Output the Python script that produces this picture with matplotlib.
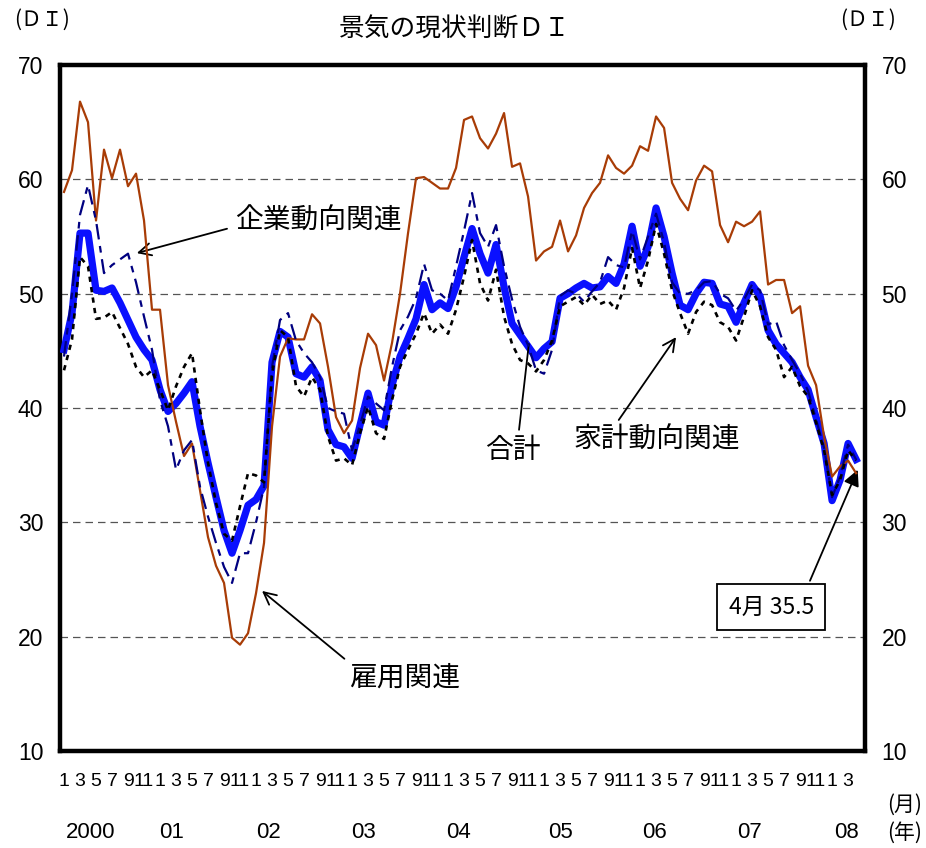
import matplotlib
matplotlib.use('Agg')
import matplotlib.pyplot as plt

plt.rcParams['font.family'] = ['Noto Sans CJK JP', 'DejaVu Sans']
NUM_FONT = ['Liberation Sans', 'DejaVu Sans']

# 2000年1月～2008年4月（月次）
years = ['2000', '01', '02', '03', '04', '05', '06', '07', '08']
n_months = 100

# 合計
total = [45.1, 48.3, 55.3, 55.3, 50.3, 50.2, 50.5, 49.2, 47.7, 46.2, 45.1, 44.2,
         41.6, 39.7, 40.4, 41.3, 42.3, 38.4, 35.2, 32.2, 29.3, 27.3, 29.3, 31.5,
         32.0, 33.2, 44.0, 46.7, 46.2, 43.0, 42.7, 43.6, 42.4, 38.1, 36.8, 36.6,
         35.6, 38.5, 41.3, 38.8, 38.5, 42.0, 44.5, 46.1, 47.8, 50.8, 48.6, 49.2,
         48.7, 50.6, 53.2, 55.7, 53.5, 51.8, 54.3, 50.6, 47.4, 46.4, 45.4, 44.4,
         45.2, 45.8, 49.6, 50.0, 50.5, 50.9, 50.5, 50.6, 51.5, 50.9, 52.6, 55.9,
         52.4, 54.1, 57.5, 55.0, 51.8, 49.0, 48.6, 50.0, 51.0, 50.9, 49.1, 48.9,
         47.5, 49.2, 50.8, 49.8, 46.8, 45.6, 44.8, 44.0, 42.7, 41.6, 39.2, 36.9,
         31.9, 33.7, 36.9, 35.5]

# 家計動向関連
household = [43.3, 46.0, 53.2, 52.4, 47.8, 47.9, 48.4, 47.0, 45.6, 43.6, 42.7, 43.3,
             41.6, 39.8, 41.9, 43.6, 44.8, 39.8, 35.2, 31.7, 29.0, 28.4, 31.4, 34.3,
             34.1, 33.5, 43.0, 46.8, 46.2, 41.9, 41.0, 42.7, 41.6, 37.5, 35.4, 35.6,
             35.0, 37.8, 40.1, 37.8, 37.3, 40.7, 43.6, 45.1, 46.5, 48.3, 46.5, 47.3,
             46.5, 48.6, 51.5, 54.7, 50.9, 49.4, 52.1, 48.0, 45.6, 44.2, 43.9, 43.2,
             44.2, 45.9, 48.9, 49.3, 49.7, 49.0, 49.9, 49.1, 49.4, 48.6, 50.5, 54.0,
             50.5, 52.9, 56.1, 53.5, 50.3, 48.3, 46.5, 48.4, 49.3, 49.0, 47.5, 47.1,
             45.9, 48.0, 50.3, 48.9, 46.2, 45.1, 42.7, 43.6, 41.9, 41.0, 38.7, 36.3,
             32.4, 33.7, 36.3, 35.4]

# 企業動向関連
business = [44.5, 50.0, 56.9, 59.5, 56.4, 51.8, 52.5, 53.0, 53.5, 51.0, 48.0, 45.1,
            40.7, 38.4, 34.6, 36.3, 37.2, 33.1, 30.5, 28.2, 26.1, 24.7, 27.3, 27.3,
            30.0, 33.1, 43.6, 47.7, 48.3, 45.9, 44.8, 44.0, 42.7, 40.0, 39.7, 39.5,
            36.3, 38.5, 41.0, 40.4, 39.8, 43.6, 46.8, 48.0, 49.6, 52.6, 50.3, 50.0,
            49.4, 52.4, 55.5, 58.8, 55.3, 54.1, 56.0, 52.4, 49.5, 47.1, 45.5, 43.3,
            43.0, 45.1, 49.8, 50.3, 50.0, 49.3, 50.2, 51.0, 53.2, 52.5, 52.3, 55.5,
            53.0, 55.0, 57.0, 54.5, 51.0, 50.0, 50.0, 50.3, 51.0, 51.1, 50.0, 49.6,
            48.5, 49.5, 50.8, 50.3, 47.3, 47.6, 45.5, 44.2, 43.0, 41.5, 39.0, 36.5,
            32.2, 34.0, 36.8, 35.5]

# 雇用関連
employment = [58.9, 60.8, 66.8, 65.0, 56.4, 62.6, 60.1, 62.6, 59.4, 60.5, 56.4, 48.6,
              48.6, 42.0, 38.8, 35.8, 36.9, 32.8, 28.7, 26.2, 24.7, 19.9, 19.3, 20.3,
              23.8, 28.2, 38.4, 44.5, 46.1, 46.0, 46.0, 48.2, 47.4, 43.6, 39.2, 37.8,
              38.9, 43.5, 46.5, 45.5, 42.4, 45.7, 50.0, 55.3, 60.1, 60.2, 59.7, 59.2,
              59.2, 61.0, 65.2, 65.5, 63.6, 62.7, 64.0, 65.8, 61.1, 61.4, 58.5, 52.9,
              53.7, 54.1, 56.4, 53.7, 55.1, 57.5, 58.8, 59.7, 62.1, 61.0, 60.5, 61.2,
              62.9, 62.5, 65.5, 64.5, 59.7, 58.3, 57.3, 59.9, 61.2, 60.7, 56.0, 54.5,
              56.3, 55.9, 56.3, 57.2, 50.8, 51.2, 51.2, 48.3, 48.9, 43.7, 42.0, 37.5,
              34.0, 34.9, 35.4, 34.3]

x = list(range(n_months))

fig = plt.figure(figsize=(9.26, 8.48), dpi=100)
ax = fig.add_axes([0.0648, 0.1144, 0.8692, 0.8089])

ax.plot(x, total, color='#0a10ff', lw=5.2, solid_joinstyle='round', zorder=3)
ax.plot(x, employment, color='#a83c06', lw=1.6, zorder=4)
ax.plot(x, business, color='#000080', lw=1.6, linestyle=(0, (7, 3, 3, 3)), zorder=5)
ax.plot(x, household, color='black', lw=1.9, linestyle=(0, (2.0, 2.0)), zorder=6)

ax.set_xlim(-0.5, 100.1)
ax.set_ylim(10, 70)
for v in [20, 30, 40, 50, 60]:
    ax.axhline(v, color='#555555', lw=0.9, linestyle=(0, (6, 4)), zorder=1)

for s in ax.spines.values():
    s.set_linewidth(3.2)

# 目盛り
ax.set_yticks([10, 20, 30, 40, 50, 60, 70])
ax.tick_params(axis='y', length=0, labelsize=16.5, pad=12, labelright=True, right=False)
for t in ax.yaxis.get_major_ticks():
    t.label1.set_family(NUM_FONT)
    t.label2.set_family(NUM_FONT)
ax.set_xticks(range(0, n_months, 2))
ax.set_xticklabels([str(i % 12 + 1) for i in range(0, n_months, 2)], family=NUM_FONT)
ax.tick_params(axis='x', length=0, labelsize=14, pad=16)

# 年ラベル
year_pos = [3.3, 13.5, 25.5, 37.4, 49.3, 62.0, 73.8, 85.7, 97.8]
for p, yl in zip(year_pos, years):
    ax.text(p, 2.9, yl, ha='center', va='center', fontsize=16, family=NUM_FONT,
            clip_on=False)

fig.text(905 / 926, 1 - 805 / 848, '(月)', ha='center', va='center', fontsize=15)
fig.text(905 / 926, 1 - 833 / 848, '(年)', ha='center', va='center', fontsize=15)
fig.text(42 / 926, 1 - 20 / 848, '(ＤＩ)', ha='center', va='center', fontsize=15)
fig.text(868 / 926, 1 - 20 / 848, '(ＤＩ)', ha='center', va='center', fontsize=15)
fig.text(455 / 926, 1 - 30 / 848, '景気の現状判断ＤＩ', ha='center', va='center', fontsize=18.5)

# 注記
ax.annotate('企業動向関連', xy=(9.1, 53.55), xytext=(31.8, 56.4), fontsize=20,
            ha='center', va='center',
            arrowprops=dict(arrowstyle='->', color='black', lw=1.3, relpos=(0, 0.3),
                            mutation_scale=22, shrinkA=4, shrinkB=0))
ax.annotate('雇用関連', xy=(24.75, 24.0), xytext=(42.6, 16.4), fontsize=20,
            ha='center', va='center',
            arrowprops=dict(arrowstyle='->', color='black', lw=1.3, relpos=(0, 1),
                            mutation_scale=22, shrinkA=2, shrinkB=0))
ax.annotate('合計', xy=(58.1, 45.6), xytext=(56.1, 36.3), fontsize=20,
            ha='center', va='center',
            arrowprops=dict(arrowstyle='-', color='black', lw=1.3, relpos=(0.6, 1),
                            shrinkA=2, shrinkB=0))
ax.annotate('家計動向関連', xy=(76.5, 46.2), xytext=(74.1, 37.2), fontsize=20,
            ha='center', va='center',
            arrowprops=dict(arrowstyle='->', color='black', lw=1.3, relpos=(0.25, 1),
                            mutation_scale=22, shrinkA=2, shrinkB=0))
ax.annotate('4月 35.5', xy=(99.2, 34.6), xytext=(88.4, 22.6), fontsize=16.5,
            ha='center', va='center',
            bbox=dict(boxstyle='square,pad=0.5', fc='white', ec='black', lw=1.3),
            arrowprops=dict(arrowstyle='-|>', color='black', lw=1.3, relpos=(0.88, 1),
                            mutation_scale=24, shrinkA=2, shrinkB=0))

fig.savefig('out.png', dpi=100)
